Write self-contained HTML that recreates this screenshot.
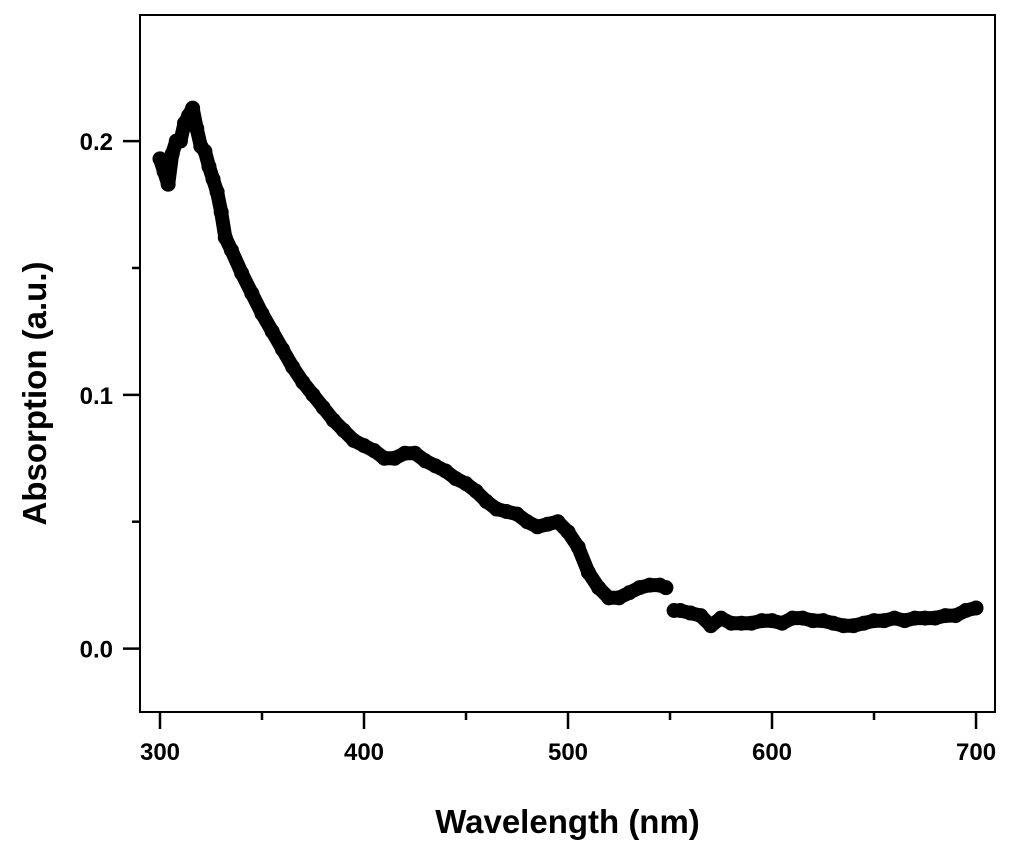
<!DOCTYPE html>
<html><head><meta charset="utf-8"><style>
html,body{margin:0;padding:0;background:#fff;}
svg{display:block;font-family:"Liberation Sans",Arial,sans-serif;font-weight:bold;}
</style></head><body>
<svg id="chart" width="1024" height="865" viewBox="0 0 1024 865"></svg>
<script>
const wavelengths=[300,302,304,306,308,310,312,314,316,318,320,322,324,326,328,330,332,335,340,345,350,355,360,365,370,375,380,385,390,395,400,405,410,415,420,425,430,435,440,445,450,455,460,465,470,475,480,485,490,495,500,505,510,515,520,525,530,535,540,545,548,552,555,560,565,570,575,580,585,590,595,600,605,610,615,620,625,630,635,640,645,650,655,660,665,670,675,680,685,690,695,700];
const absorption=[0.193,0.188,0.183,0.195,0.2,0.2,0.207,0.21,0.213,0.205,0.198,0.196,0.19,0.185,0.18,0.172,0.162,0.157,0.148,0.14,0.132,0.125,0.118,0.111,0.105,0.1,0.095,0.09,0.086,0.082,0.08,0.078,0.075,0.075,0.077,0.077,0.074,0.072,0.07,0.067,0.065,0.062,0.058,0.055,0.054,0.053,0.05,0.048,0.049,0.05,0.046,0.04,0.03,0.024,0.02,0.02,0.022,0.024,0.025,0.025,0.024,0.015,0.015,0.014,0.013,0.009,0.012,0.01,0.01,0.01,0.011,0.011,0.01,0.012,0.012,0.011,0.011,0.01,0.009,0.009,0.01,0.011,0.011,0.012,0.011,0.012,0.012,0.012,0.013,0.013,0.015,0.016];
const xTicks=[300,400,500,600,700];
const xMinor=[350,450,550,650];
const yTicks=[0.0,0.1,0.2];
const yTickLabels=["0.0","0.1","0.2"];
const yMinor=[0.05,0.15];
const gapAfter=550;

const L=140,R=995,T=15,B=712;
const xMin=290.2,xMax=709.3,yMin=-0.025,yMax=0.2497;
const X=v=>L+(v-xMin)/(xMax-xMin)*(R-L);
const Y=v=>B-(v-yMin)/(yMax-yMin)*(B-T);
const svg=document.getElementById('chart');
const NS='http://www.w3.org/2000/svg';
function mk(tag,attrs){const e=document.createElementNS(NS,tag);for(const k in attrs)e.setAttribute(k,attrs[k]);svg.appendChild(e);return e;}

const frame=mk('rect',{x:L,y:T,width:R-L,height:B-T,fill:'none',stroke:'#000','stroke-width':2});



xTicks.forEach(v=>{
  const t=mk('line',{x1:X(v),x2:X(v),y1:B,y2:B+17,stroke:'#000','stroke-width':2.5});
  
  
  const l=mk('text',{x:X(v),y:B+48,'text-anchor':'middle','font-size':24});
  l.textContent=v;
  
  
});
xMinor.forEach(v=>{
  const t=mk('line',{x1:X(v),x2:X(v),y1:B,y2:B+8,stroke:'#000','stroke-width':2.5});
  
  
});
yTicks.forEach((v,i)=>{
  const t=mk('line',{x1:L-17,x2:L,y1:Y(v),y2:Y(v),stroke:'#000','stroke-width':2.5});
  
  
  const l=mk('text',{x:L-27,y:Y(v)+9,'text-anchor':'end','font-size':24});
  l.textContent=yTickLabels[i];
  
  
});
yMinor.forEach(v=>{
  const t=mk('line',{x1:L-8,x2:L,y1:Y(v),y2:Y(v),stroke:'#000','stroke-width':2.5});
  
  
});

const xt=mk('text',{x:(L+R)/2,y:833,'text-anchor':'middle','font-size':33});
xt.textContent='Wavelength (nm)';


const yt=mk('text',{x:0,y:0,'text-anchor':'middle','font-size':33,transform:`translate(46,${(T+B)/2+30}) rotate(-90)`});
yt.textContent='Absorption (a.u.)';



const segs=[[],[]];
wavelengths.forEach((w,i)=>segs[w<gapAfter?0:1].push(X(w).toFixed(1)+','+Y(absorption[i]).toFixed(1)));
segs.forEach(s=>{
  const p=mk('polyline',{points:s.join(' '),fill:'none',stroke:'#000','stroke-width':14,'stroke-linejoin':'round','stroke-linecap':'round'});
  
  
});
wavelengths.forEach((w,i)=>{
  const c=mk('circle',{cx:X(w),cy:Y(absorption[i]),r:7.5,fill:'#000'});
  
  
});
</script>
</body></html>
